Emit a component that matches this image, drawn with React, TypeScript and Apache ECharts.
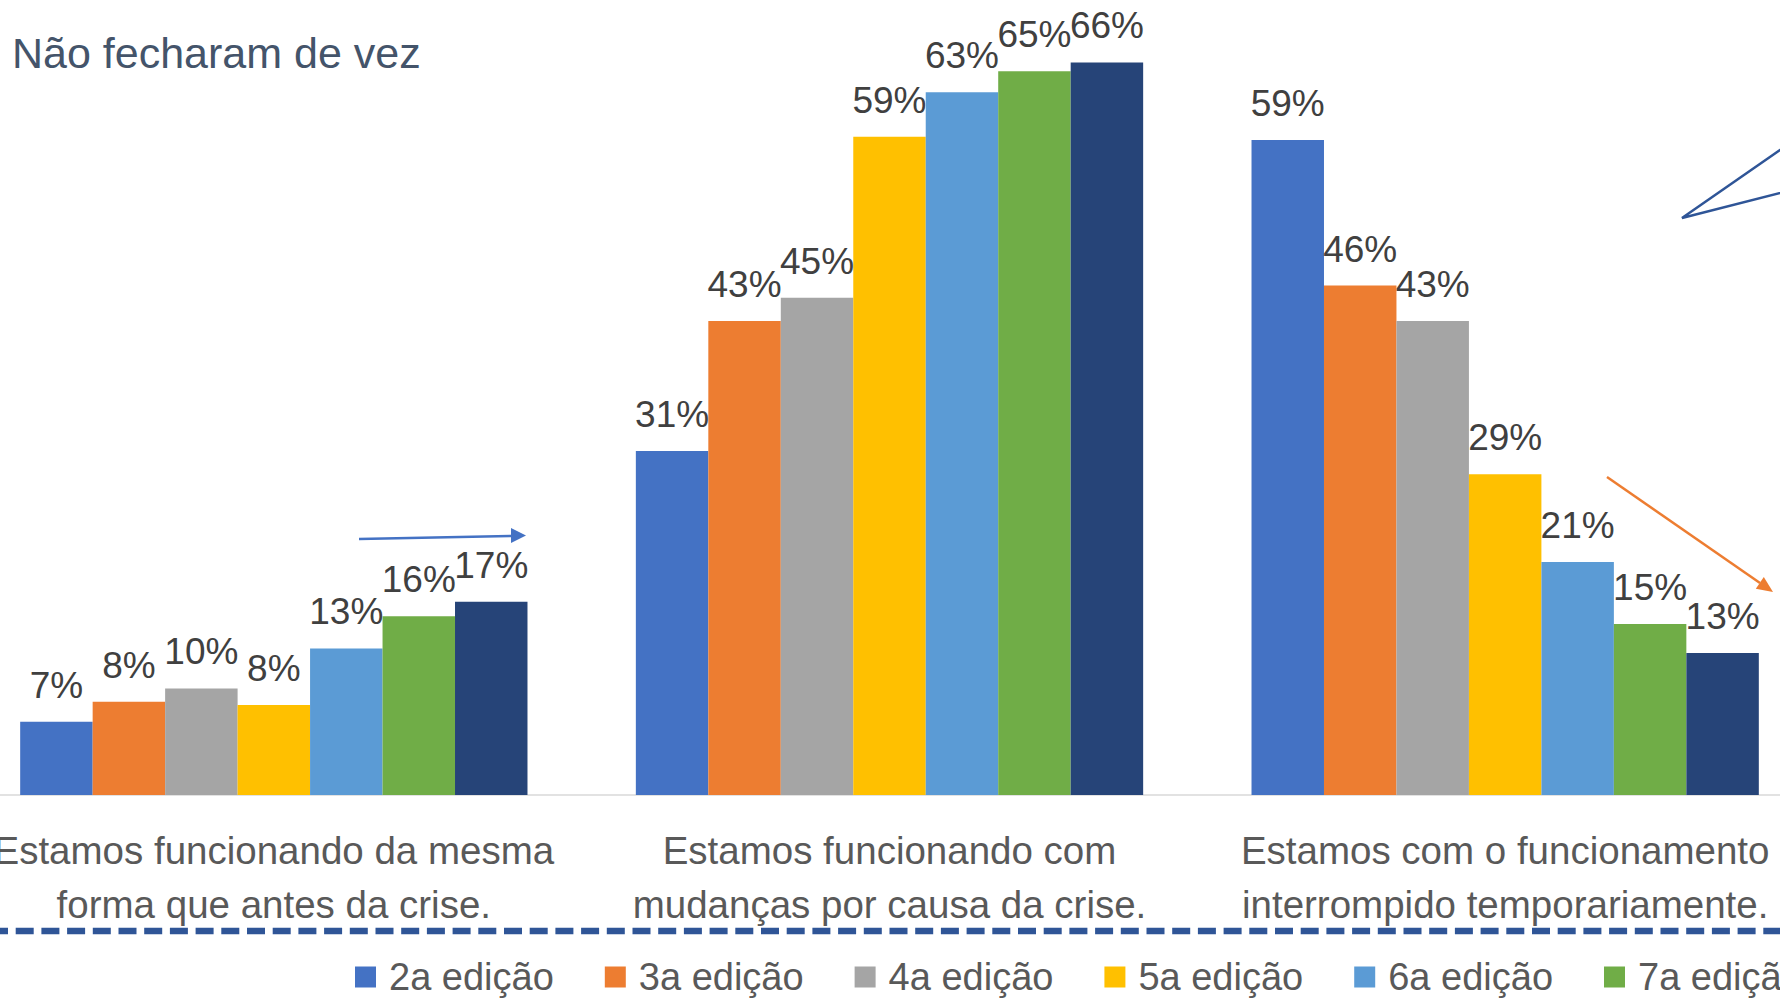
import React, { useEffect, useRef } from "react";
import * as echarts from "echarts";

const categories = [
  "Estamos funcionando da mesma\nforma que antes da crise.",
  "Estamos funcionando com\nmudanças por causa da crise.",
  "Estamos com o funcionamento\ninterrompido temporariamente.",
];
const editions = ["2a edição", "3a edição", "4a edição", "5a edição", "6a edição", "7a edição", "8a edição"];
const colors = ["#4472C4", "#ED7D31", "#A5A5A5", "#FFC000", "#5B9BD5", "#70AD47", "#264478"];
// values per edition, one per category
const ed2 = [6.6, 31.0, 59.0];
const ed3 = [8.4, 42.7, 45.9];
const ed4 = [9.6, 44.8, 42.7];
const ed5 = [8.1, 59.3, 28.9];
const ed6 = [13.2, 63.3, 21.0];
const ed7 = [16.1, 65.2, 15.4];
const ed8 = [17.4, 66.0, 12.8];
const seriesValues = [ed2, ed3, ed4, ed5, ed6, ed7, ed8];
const titleText = "Não fecharam de vez";

const FONT = "'Liberation Sans', Arial, sans-serif";
const OX = 34; // chart canvas extends 34px left of the visible page
const CW = 1847;

export default function App() {
  const ref = useRef<HTMLDivElement>(null);
  useEffect(() => {
    if (!ref.current) return;
    const chart = echarts.init(ref.current, undefined, { renderer: "svg" });
    const X = (x: number) => x + OX;
    const blueTip = [X(526), 535.5];
    const orTip = [X(1773), 592];
    const option: any = {
      animation: false,
      backgroundColor: "#ffffff",
      textStyle: { fontFamily: FONT },
      grid: { left: 0, right: 0, top: 18, bottom: 204, containLabel: false },
      xAxis: {
        type: "category",
        data: categories,
        axisLine: { show: true, lineStyle: { color: "#D9D9D9", width: 1.5 } },
        axisTick: { show: false },
        axisLabel: {
          interval: 0,
          margin: 28,
          color: "#595959",
          fontSize: 38.5,
          lineHeight: 54,
          fontFamily: FONT,
        },
      },
      yAxis: { type: "value", min: 0, max: 70, show: false, splitLine: { show: false } },
      legend: {
        left: X(355),
        top: 958,
        width: 2600,
        padding: 0,
        itemWidth: 21,
        itemHeight: 21,
        itemGap: 51,
        icon: "rect",
        data: editions,
        textStyle: { color: "#595959", fontSize: 38, fontFamily: FONT, padding: [0, 0, 0, 8] },
      },
      series: editions.map((name, i) => ({
        name,
        type: "bar",
        data: seriesValues[i],
        barGap: "0%",
        barCategoryGap: "17.6%",
        itemStyle: { color: colors[i] },
        label: {
          show: true,
          position: "top",
          distance: 18,
          color: "#404040",
          fontSize: 37,
          fontFamily: FONT,
          formatter: (p: any) => Math.round(p.value) + "%",
        },
      })),
      graphic: [
        {
          type: "text",
          left: X(12),
          top: 31,
          style: { text: titleText, fill: "#44546A", fontSize: 43, fontFamily: FONT },
        },
        {
          type: "line",
          shape: { x1: 0, y1: 931, x2: CW, y2: 931 },
          style: { stroke: "#2F5597", lineWidth: 6.5, lineDash: [18, 7.7], lineDashOffset: 10 - OX },
        },
        {
          type: "line",
          shape: { x1: X(359), y1: 539, x2: blueTip[0] - 14, y2: 536 },
          style: { stroke: "#4472C4", lineWidth: 2.5 },
        },
        {
          type: "polygon",
          shape: { points: [[blueTip[0], blueTip[1]], [blueTip[0] - 15, blueTip[1] - 7.5], [blueTip[0] - 15, blueTip[1] + 7.5]] },
          style: { fill: "#4472C4" },
        },
        {
          type: "line",
          shape: { x1: X(1607), y1: 477, x2: X(1760), y2: 583 },
          style: { stroke: "#ED7D31", lineWidth: 2.5 },
        },
        {
          type: "polygon",
          shape: { points: [[orTip[0], orTip[1]], [X(1755.8), 588.7], [X(1763.8), 577.1]] },
          style: { fill: "#ED7D31" },
        },
        {
          type: "polyline",
          shape: { points: [[X(1800), 136], [X(1682), 218], [X(1800), 188]] },
          style: { stroke: "#2F5597", lineWidth: 2.5, fill: null },
        },
      ],
    };
    chart.setOption(option);
    return () => chart.dispose();
  }, []);
  return (
    <div style={{ position: "fixed", left: 0, top: 0, width: 1780, height: 999, overflow: "hidden", background: "#fff" }}>
      <div
        ref={ref}
        style={{ position: "absolute", left: -OX, top: 0, width: CW, height: 999 }}
      />
    </div>
  );
}
